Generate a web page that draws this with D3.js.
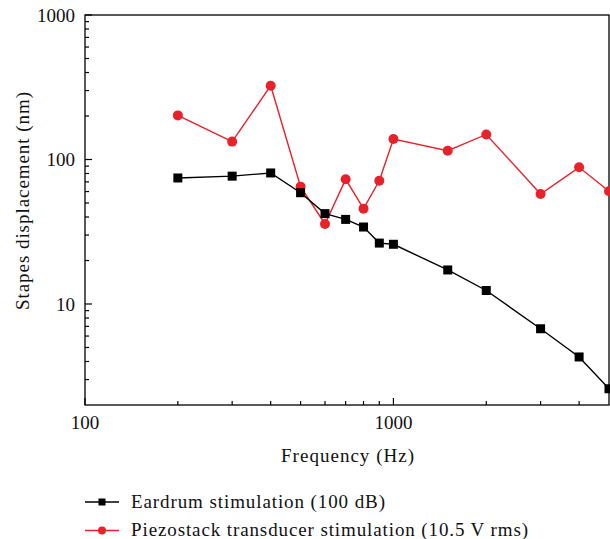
<!DOCTYPE html>
<html><head><meta charset="utf-8">
<script src="https://cdn.jsdelivr.net/npm/d3@7"></script>
<style>body{margin:0;background:#fff}svg{display:block}text{font-family:"Liberation Serif","Times New Roman",serif;fill:#111}</style>
</head><body><svg id="c" width="610" height="539"></svg>
<script>
const freqs = [200,300,400,500,600,700,800,900,1000,1500,2000,3000,4000,5000];
const eardrum = [74.5,76.7,80.7,58.9,42.2,38.5,34.1,26.4,25.9,17.2,12.4,6.74,4.30,2.59];
const piezo = [202,133,324,64.9,35.8,72.9,45.7,71.3,138.7,115,149,57.7,88.3,60.3];
const xTickLabels = [100,1000];
const yTickLabels = [10,100,1000];
const seriesNames = ["Eardrum stimulation (100 dB)","Piezostack transducer stimulation (10.5 V rms)"];
const colors = ["#000000","#e8222a"];

const svg = d3.select("#c");
const L=85,R=609,T=15,B=405;
const x = d3.scaleLog().domain([100,5000]).range([L,R]);
const y = d3.scaleLog().domain([2,1000]).range([B,T]);

svg.append("rect").attr("x",L).attr("y",T).attr("width",R-L).attr("height",B-T)
  .attr("fill","none").attr("stroke","#000").attr("stroke-width",1.3);

const xMinor = [200,300,400,500,600,700,800,900,2000,3000,4000];
const gx = svg.append("g");
xTickLabels.forEach(v=>{
  gx.append("line").attr("x1",x(v)).attr("x2",x(v)).attr("y1",B).attr("y2",B-7).attr("stroke","#000").attr("stroke-width",1.2);
  gx.append("text").attr("x",x(v)).attr("y",429).attr("text-anchor","middle").attr("font-size",19).text(v);
});
xMinor.forEach(v=>{
  gx.append("line").attr("x1",x(v)).attr("x2",x(v)).attr("y1",B).attr("y2",B-4).attr("stroke","#000").attr("stroke-width",1.2);
});
const yMinor = [3,4,5,6,7,8,9,20,30,40,50,60,70,80,90,200,300,400,500,600,700,800,900];
const gy = svg.append("g");
yTickLabels.forEach(v=>{
  gy.append("line").attr("x1",L).attr("x2",L+7).attr("y1",y(v)).attr("y2",y(v)).attr("stroke","#000").attr("stroke-width",1.2);
  gy.append("text").attr("x",75).attr("y",y(v)).attr("dy","0.35em").attr("text-anchor","end").attr("font-size",19).text(v);
});
yMinor.forEach(v=>{
  gy.append("line").attr("x1",L).attr("x2",L+4).attr("y1",y(v)).attr("y2",y(v)).attr("stroke","#000").attr("stroke-width",1.2);
});

svg.append("text").attr("x",281).attr("y",462).attr("font-size",19)
  .attr("textLength",133).attr("lengthAdjust","spacing").text("Frequency (Hz)");
svg.append("text").attr("transform","translate(29,310) rotate(-90)").attr("font-size",19)
  .attr("textLength",218).attr("lengthAdjust","spacing").text("Stapes displacement (nm)");

const line = d3.line().x(d=>x(d[0])).y(d=>y(d[1]));
const s1 = freqs.map((f,i)=>[f,eardrum[i]]);
const s2 = freqs.map((f,i)=>[f,piezo[i]]);

svg.append("path").datum(s2).attr("d",line).attr("fill","none").attr("stroke",colors[1]).attr("stroke-width",1.4);
svg.selectAll(".c2").data(s2).enter().append("circle").attr("cx",d=>x(d[0])).attr("cy",d=>y(d[1])).attr("r",5).attr("fill",colors[1]);
svg.append("path").datum(s1).attr("d",line).attr("fill","none").attr("stroke",colors[0]).attr("stroke-width",1.4);
svg.selectAll(".c1").data(s1).enter().append("rect").attr("x",d=>x(d[0])-4.5).attr("y",d=>y(d[1])-4.5).attr("width",9).attr("height",9).attr("fill",colors[0]);

const legendLens = [254,397];
const lg = svg.append("g");
[0,1].forEach(i=>{
  const ly = 502 + i*28.5;
  lg.append("line").attr("x1",85).attr("x2",119).attr("y1",ly).attr("y2",ly).attr("stroke",colors[i]).attr("stroke-width",1.4);
  if(i===0) lg.append("rect").attr("x",102-3.5).attr("y",ly-3.5).attr("width",7).attr("height",7).attr("fill",colors[0]);
  else lg.append("circle").attr("cx",102).attr("cy",ly).attr("r",4).attr("fill",colors[1]);
  lg.append("text").attr("x",131).attr("y",ly+5.5).attr("font-size",19)
    .attr("textLength",legendLens[i]).attr("lengthAdjust","spacing").text(seriesNames[i]);
});
</script></body></html>
